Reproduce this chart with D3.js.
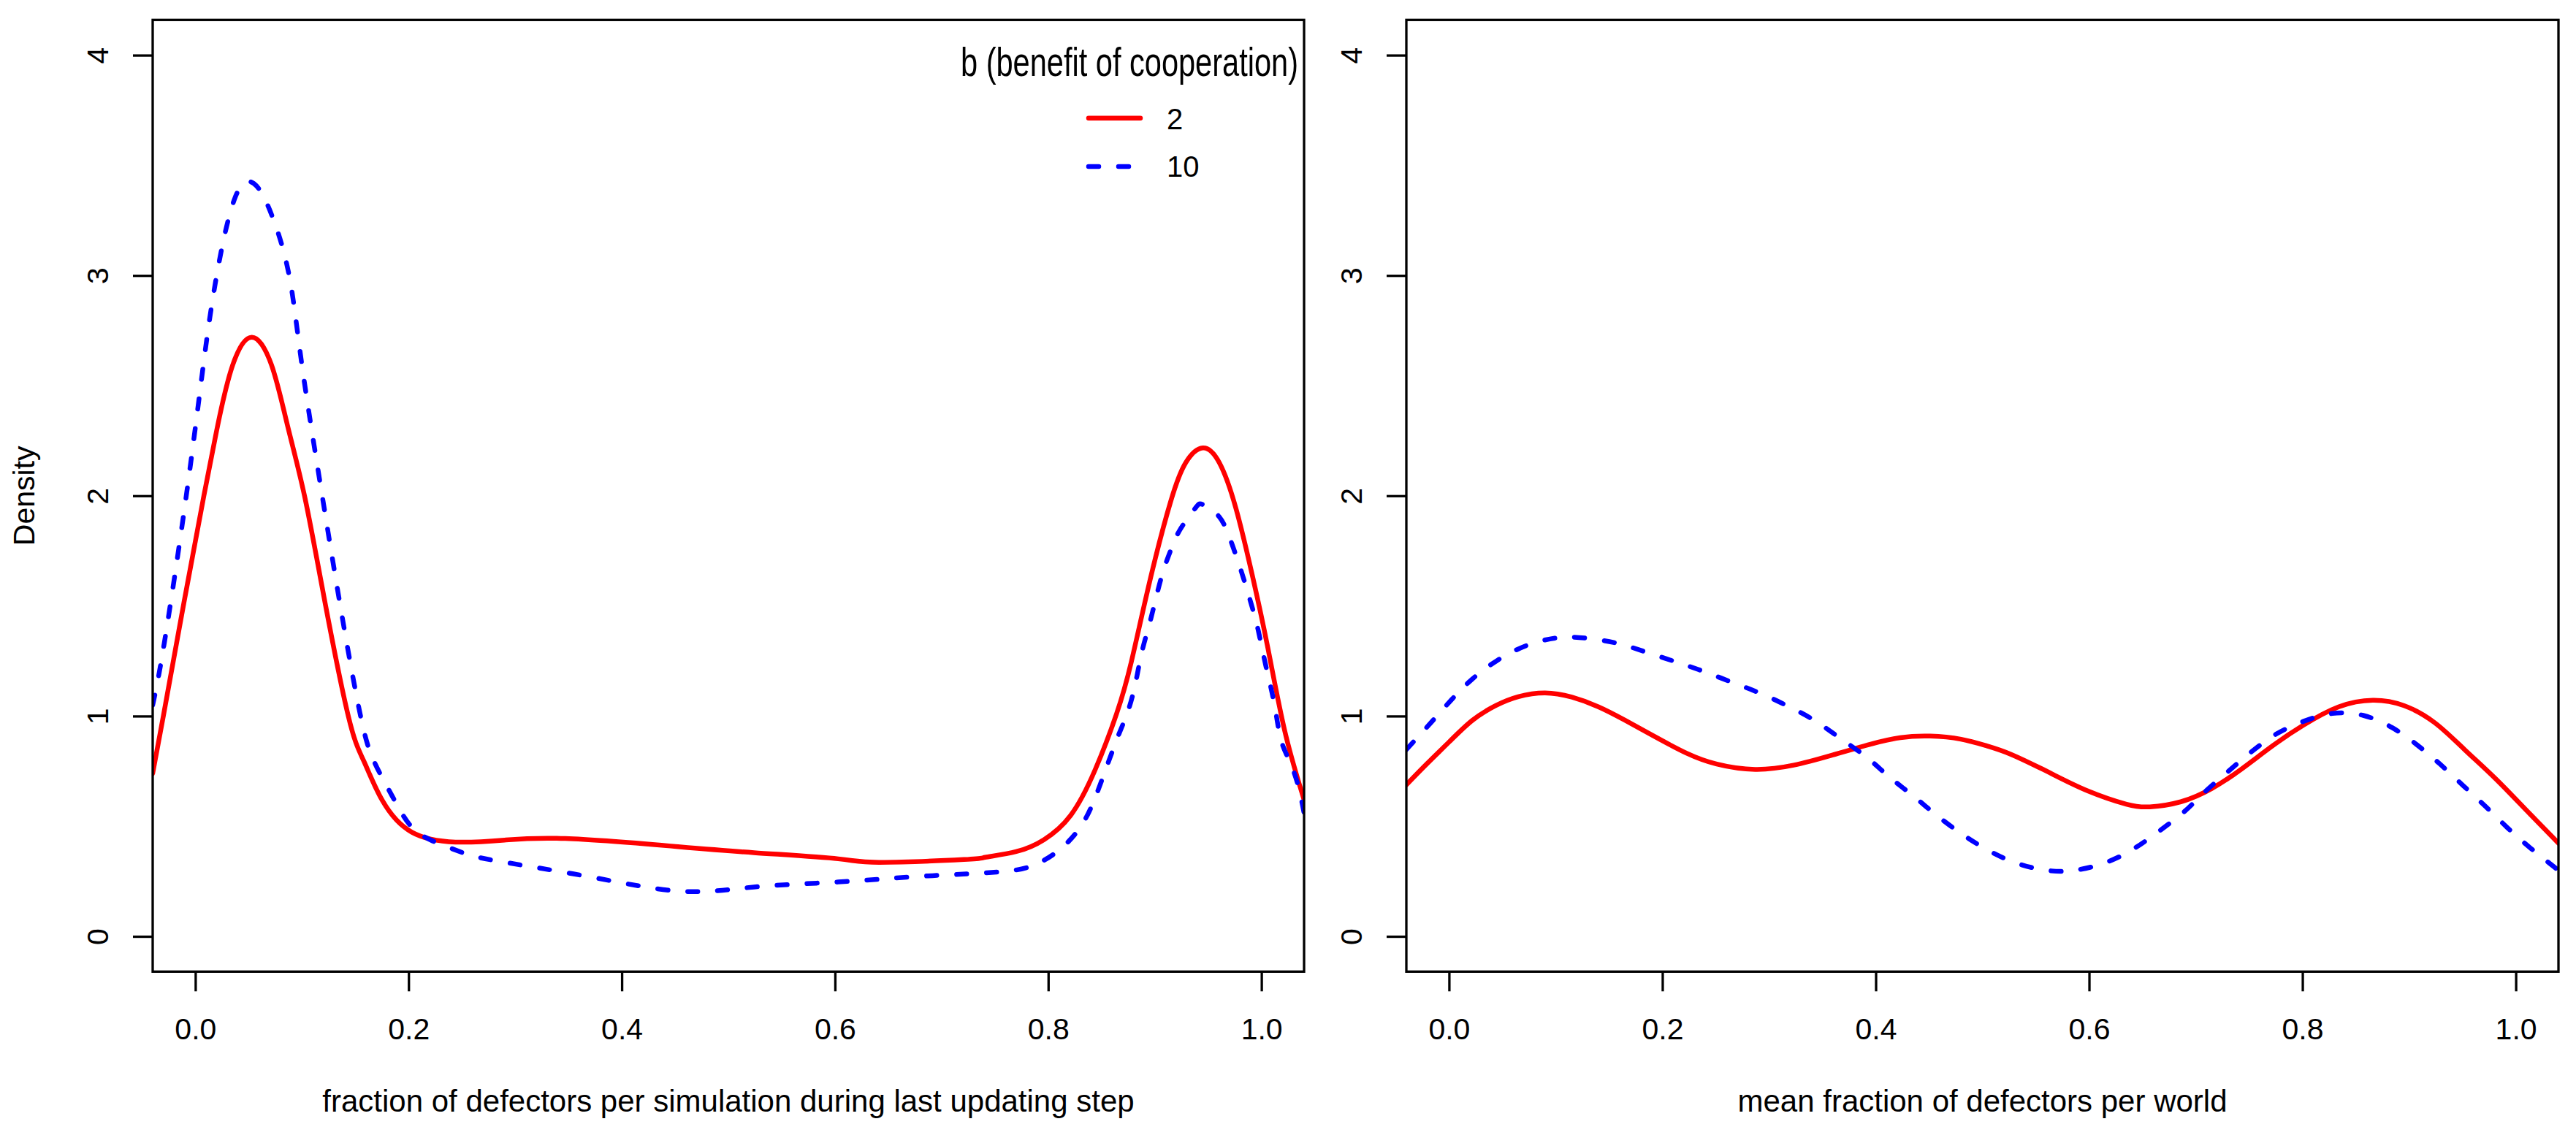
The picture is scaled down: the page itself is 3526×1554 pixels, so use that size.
<!DOCTYPE html>
<html>
<head>
<meta charset="utf-8">
<script src="https://cdn.jsdelivr.net/npm/d3@7"></script>
<style>
  html, body { margin: 0; padding: 0; background: #ffffff; }
  svg { display: block; }
  text { font-family: "Liberation Sans", Arial, Helvetica, sans-serif; fill: #000; }
</style>
</head>
<body>
<svg id="chart" width="3526" height="1554"></svg>
<script>
// ---------------- data ----------------
const xTicks = [0, 0.2, 0.4, 0.6, 0.8, 1.0];
const yTicks = [0, 1, 2, 3, 4];
const legendTitle = "b (benefit of cooperation)";
const seriesNames = ["2", "10"];
const xTitleLeft = "fraction of defectors per simulation during last updating step";
const xTitleRight = "mean fraction of defectors per world";
const yTitle = "Density";

// Left panel, b = 2 (red, solid)
const leftB2x = [-0.04, -0.030, -0.0107, 0.008, 0.021, 0.035, 0.053, 0.0715, 0.0864, 0.1024, 0.1207, 0.1435, 0.158, 0.1755, 0.203, 0.244, 0.29, 0.347, 0.446, 0.524, 0.603, 0.642, 0.721, 0.741, 0.77, 0.796, 0.821, 0.844, 0.864, 0.878, 0.896, 0.915, 0.929, 0.945, 0.9605, 0.976, 0.992, 1.006, 1.022, 1.04];
const leftB2y = [0.74, 1.00, 1.515, 2.0, 2.32, 2.593, 2.72, 2.593, 2.32, 2.0, 1.54, 1.0, 0.796, 0.616, 0.473, 0.428, 0.437, 0.444, 0.41, 0.38, 0.352, 0.336, 0.349, 0.359, 0.385, 0.439, 0.549, 0.756, 1.009, 1.247, 1.627, 1.976, 2.150, 2.217, 2.150, 1.944, 1.627, 1.310, 0.930, 0.62];

// Left panel, b = 10 (blue, dashed)
const leftB10x = [-0.04, -0.029, -0.0085, 0.0075, 0.02, 0.037, 0.055, 0.072, 0.088, 0.100, 0.119, 0.138, 0.155, 0.1675, 0.185, 0.2007, 0.221, 0.249, 0.28, 0.367, 0.455, 0.524, 0.603, 0.682, 0.755, 0.789, 0.812, 0.831, 0.844, 0.855, 0.866, 0.875, 0.882, 0.888, 0.896, 0.906, 0.915, 0.924, 0.938, 0.945, 0.9605, 0.972, 0.981, 0.990, 0.997, 1.004, 1.012, 1.018, 1.026, 1.034, 1.04];
const leftB10y = [1.05, 1.335, 2.0, 2.593, 3.0, 3.35, 3.417, 3.27, 3.0, 2.593, 2.0, 1.443, 1.0, 0.796, 0.634, 0.509, 0.437, 0.383, 0.345, 0.273, 0.205, 0.224, 0.247, 0.273, 0.293, 0.328, 0.399, 0.502, 0.629, 0.772, 0.914, 1.025, 1.152, 1.294, 1.437, 1.627, 1.754, 1.849, 1.944, 1.96, 1.904, 1.786, 1.659, 1.516, 1.389, 1.231, 1.057, 0.898, 0.80, 0.692, 0.56];

// Right panel, b = 2 (red, solid)
const rightB2x = [-0.04, -0.021, 0.0, 0.022, 0.044, 0.065, 0.090, 0.115, 0.140, 0.165, 0.194, 0.2225, 0.251, 0.287, 0.323, 0.358, 0.394, 0.423, 0.451, 0.480, 0.504, 0.527, 0.563, 0.599, 0.635, 0.657, 0.686, 0.715, 0.743, 0.772, 0.801, 0.834, 0.866, 0.895, 0.924, 0.952, 0.981, 1.010, 1.04];
const rightB2y = [0.688, 0.782, 0.882, 0.981, 1.048, 1.088, 1.105, 1.086, 1.042, 0.981, 0.904, 0.832, 0.782, 0.758, 0.777, 0.821, 0.871, 0.902, 0.909, 0.895, 0.865, 0.826, 0.743, 0.660, 0.600, 0.588, 0.611, 0.671, 0.760, 0.865, 0.959, 1.042, 1.072, 1.048, 0.970, 0.848, 0.716, 0.572, 0.423];

// Right panel, b = 10 (blue, dashed)
const rightB10x = [-0.04, -0.017, 0.0025, 0.022, 0.045, 0.072, 0.101, 0.128, 0.158, 0.183, 0.212, 0.239, 0.2655, 0.292, 0.319, 0.344, 0.367, 0.391, 0.412, 0.435, 0.457, 0.480, 0.502, 0.531, 0.563, 0.588, 0.615, 0.641, 0.664, 0.688, 0.707, 0.729, 0.752, 0.776, 0.801, 0.828, 0.857, 0.884, 0.907, 0.929, 0.951, 0.972, 0.992, 1.014, 1.04];
const rightB10y = [0.848, 0.970, 1.075, 1.169, 1.252, 1.319, 1.355, 1.354, 1.330, 1.293, 1.247, 1.202, 1.153, 1.103, 1.042, 0.976, 0.898, 0.815, 0.727, 0.638, 0.550, 0.467, 0.400, 0.334, 0.298, 0.301, 0.334, 0.395, 0.472, 0.561, 0.649, 0.743, 0.837, 0.920, 0.976, 1.012, 1.003, 0.948, 0.871, 0.782, 0.683, 0.588, 0.494, 0.400, 0.30];

// ---------------- drawing ----------------
const svg = d3.select("#chart");
svg.append("rect").attr("width", 3526).attr("height", 1554).attr("fill", "#fff");

const xDomain = [-0.04, 1.04];
const plotTop = 27.3, plotBottom = 1330.3;
const yScale = d3.scaleLinear().domain([-0.16, 4.16]).range([plotBottom, plotTop]);

const panels = [
  { left: 209, right: 1785, title: xTitleLeft, red: [leftB2x, leftB2y], blue: [leftB10x, leftB10y], legend: true },
  { left: 1925, right: 3502, title: xTitleRight, red: [rightB2x, rightB2y], blue: [rightB10x, rightB10y], legend: false }
];

const zip = (xs, ys) => xs.map((v, i) => [v, ys[i]]);

panels.forEach((p, pi) => {
  const x = d3.scaleLinear().domain(xDomain).range([p.left, p.right]);
  const g = svg.append("g");

  const clipId = "clip" + pi;
  svg.append("clipPath").attr("id", clipId)
    .append("rect").attr("x", p.left).attr("y", plotTop)
    .attr("width", p.right - p.left).attr("height", plotBottom - plotTop);

  const line = d3.line()
    .x(d => x(d[0])).y(d => yScale(d[1]))
    .curve(d3.curveNatural);

  const curves = g.append("g").attr("clip-path", `url(#${clipId})`);
  curves.append("path")
    .attr("d", line(zip(p.red[0], p.red[1])))
    .attr("fill", "none").attr("stroke", "#ff0000")
    .attr("stroke-width", 6.5).attr("stroke-linecap", "round").attr("stroke-linejoin", "round");
  curves.append("path")
    .attr("d", line(zip(p.blue[0], p.blue[1])))
    .attr("fill", "none").attr("stroke", "#0000ff")
    .attr("stroke-width", 6.5).attr("stroke-linecap", "round").attr("stroke-linejoin", "round")
    .attr("stroke-dasharray", "14 27");

  // x axis
  const xAxis = d3.axisBottom(x).tickValues(xTicks).tickFormat(d3.format(".1f"))
    .tickSize(27).tickPadding(37);
  const gx = g.append("g").attr("transform", `translate(0,${plotBottom})`).call(xAxis);
  gx.select(".domain").remove();
  gx.selectAll(".tick line").attr("stroke", "#000").attr("stroke-width", 3.3);
  gx.selectAll(".tick text").attr("font-size", 41)
    .attr("font-family", "Liberation Sans, Arial, sans-serif").attr("fill", "#000");

  // y axis
  const yAxis = d3.axisLeft(yScale).tickValues(yTicks).tickFormat(d3.format("d")).tickSize(27);
  const gy = g.append("g").attr("transform", `translate(${p.left},0)`).call(yAxis);
  gy.select(".domain").remove();
  gy.selectAll(".tick line").attr("stroke", "#000").attr("stroke-width", 3.3);
  gy.selectAll(".tick text")
    .attr("x", null).attr("dy", null)
    .attr("transform", "translate(-61,0) rotate(-90)")
    .attr("text-anchor", "middle")
    .attr("font-size", 41)
    .attr("font-family", "Liberation Sans, Arial, sans-serif").attr("fill", "#000");

  // box
  g.append("rect").attr("x", p.left).attr("y", plotTop)
    .attr("width", p.right - p.left).attr("height", plotBottom - plotTop)
    .attr("fill", "none").attr("stroke", "#000").attr("stroke-width", 3.3);

  // x title
  g.append("text").attr("x", (p.left + p.right) / 2).attr("y", 1522)
    .attr("text-anchor", "middle").attr("font-size", 42).text(p.title);

  if (pi === 0) {
    g.append("text").attr("transform", `translate(47,${(plotTop + plotBottom) / 2}) rotate(-90)`)
      .attr("text-anchor", "middle").attr("font-size", 41).text(yTitle);
  }

  if (p.legend) {
    const lg = g.append("g");
    lg.append("text").attr("x", 1315).attr("y", 104)
      .attr("font-size", 56).attr("textLength", 462).attr("lengthAdjust", "spacingAndGlyphs")
      .text(legendTitle);
    const rows = [
      { y: 161.7, color: "#ff0000", dash: null, label: seriesNames[0], ty: 177 },
      { y: 228, color: "#0000ff", dash: "14 27", label: seriesNames[1], ty: 242 }
    ];
    rows.forEach(r => {
      const l = lg.append("line").attr("x1", 1490).attr("x2", 1561)
        .attr("y1", r.y).attr("y2", r.y)
        .attr("stroke", r.color).attr("stroke-width", 6.5).attr("stroke-linecap", "round");
      if (r.dash) l.attr("stroke-dasharray", r.dash);
      lg.append("text").attr("x", 1597).attr("y", r.ty).attr("font-size", 40).text(r.label);
    });
  }
});
</script>
</body>
</html>
